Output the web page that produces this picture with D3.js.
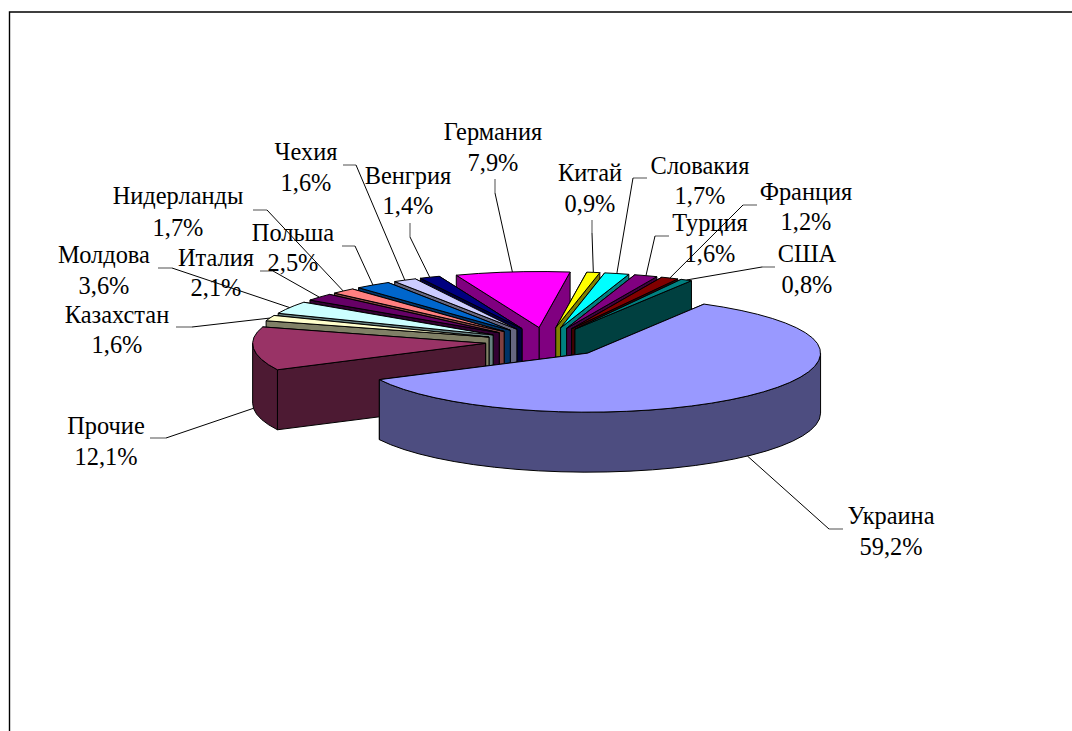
<!DOCTYPE html>
<html>
<head>
<meta charset="utf-8">
<title>Страны</title>
<script src="https://cdn.jsdelivr.net/npm/d3@7"></script>
<style>
    body { margin: 0; background: #fff; }
    text { font-family: "Liberation Serif", serif; font-size: 24.4px; fill: #000; }
</style>
</head>
<body>
<script>
    // data, going clockwise from Ukraine
    var countries = ["Украина", "Прочие", "Казахстан", "Молдова", "Италия", "Нидерланды", "Польша", "Чехия",
        "Венгрия", "Германия", "Китай", "Словакия", "Турция", "Франция", "США"];
    var shares = [59.2, 12.1, 1.6, 3.6, 2.1, 1.7, 2.5, 1.6, 1.4, 7.9, 0.9, 1.7, 1.6, 1.2, 0.8];
    var colors = ["#9999FF", "#993366", "#FFFFCC", "#CCFFFF", "#660066", "#FF8080", "#0066CC", "#CCCCFF",
        "#000080", "#FF00FF", "#FFFF00", "#00FFFF", "#800080", "#800000", "#008080"];

    // label layout: [center x, first baseline, second baseline], same order as countries
    var labelPos = [[891, 524, 555], [106, 434, 465], [117, 323, 353], [104, 263, 294], [216, 266, 296],
        [178, 204, 236], [293, 241, 271], [306, 160, 191], [408, 184, 214], [493, 140, 171],
        [590, 181, 212], [700, 174, 204], [710, 231, 262], [806, 200, 230], [807, 262, 293]];
    // leader line: start next to the label, then the elbow. the end is computed on the slice
    var leaderPos = [[[843, 529], [829, 529]], [[150, 438], [166, 438]], [[176, 327], [192, 327]],
        [[158, 268], [172, 268]], [[260, 271], [273, 271]], [[253, 210], [267, 210]],
        [[342, 246], [355, 246]], [[343, 165], [356, 165]], [[410, 223], [410, 237]],
        [[495, 179], [495, 193]], [[592, 220], [592, 233]], [[647, 178], [633, 178]],
        [[669, 236], [655, 236]], [[757, 205], [743, 205]], [[775, 267], [762, 267]]];

    var width = 1072, height = 731;
    // the back of the pie is a little flatter than the front (perspective)
    var cx = 546, cy = 342, rx = 233, ryBack = 56, ryFront = 59, depth = 60, explode = 0.26;

    var svg = d3.select("body").append("svg")
        .attr("width", width)
        .attr("height", height)
        .style("display", "block");

    // chart frame
    svg.append("path")
        .attr("d", "M9.5 731V12H1072")
        .attr("fill", "none")
        .attr("stroke", "#000")
        .attr("stroke-width", 1.4);

    var x = d3.scaleLinear().domain([-1, 1]).range([cx - rx, cx + rx]);
    var y = d3.scaleLinear().domain([-1, 0, 1]).range([cy - ryBack, cy, cy + ryFront]);
    var line = d3.line();

    var start = 30 * Math.PI / 180;
    var pie = d3.pie().sort(null).startAngle(start).endAngle(start + 2 * Math.PI);
    var slices = pie(shares).map(function(d, i) {
        d.name = countries[i];
        d.color = colors[i];
        d.mid = (d.startAngle + d.endAngle) / 2;
        d.ox = explode * Math.sin(d.mid);
        d.oy = -explode * Math.cos(d.mid);
        return d;
    });

    // point of a slice at angle a and radius r, dropped by dz pixels
    function pt(d, a, r, dz) {
        return [x(d.ox + r * Math.sin(a)), y(d.oy - r * Math.cos(a)) + dz];
    }

    function arcPoints(d, a0, a1, dz) {
        var n = Math.max(2, Math.ceil((a1 - a0) / 0.1));
        return d3.range(n + 1).map(function(k) {
            return pt(d, a0 + (a1 - a0) * k / n, 1, dz);
        });
    }

    function drawPoly(g, pts, fill) {
        g.append("path")
            .attr("d", line(pts) + "Z")
            .attr("fill", fill)
            .attr("stroke", "#000")
            .attr("stroke-width", 1)
            .attr("stroke-linejoin", "round");
    }

    // back slices first
    var order = slices.slice().sort(function(a, b) {
        return d3.descending(Math.cos(a.mid), Math.cos(b.mid));
    });

    order.forEach(function(d) {
        var g = svg.append("g").attr("class", "slice");
        var side = d3.color(d.color);
        side = d3.rgb(Math.round(side.r / 2), Math.round(side.g / 2), Math.round(side.b / 2)).formatHex();

        // radial walls, the one further back first
        [d.startAngle, d.endAngle].sort(function(a, b) {
            return d3.descending(Math.cos(a), Math.cos(b));
        }).forEach(function(a) {
            drawPoly(g, [pt(d, 0, 0, 0), pt(d, a, 1, 0), pt(d, a, 1, depth), pt(d, 0, 0, depth)], side);
        });

        // outer wall, only the part facing the viewer
        var lo = Math.max(d.startAngle, Math.PI / 2), hi = Math.min(d.endAngle, 3 * Math.PI / 2);
        if (hi > lo) {
            drawPoly(g, arcPoints(d, lo, hi, 0).concat(arcPoints(d, lo, hi, depth).reverse()), side);
        }

        // top
        drawPoly(g, [pt(d, 0, 0, 0)].concat(arcPoints(d, d.startAngle, d.endAngle, 0)), d.color);
    });

    // leader lines
    slices.forEach(function(d, i) {
        var front = Math.cos(d.mid) < 0;
        var end = pt(d, d.mid, 1, front ? depth : 0);
        var p = leaderPos[i];
        svg.append("path")
            .attr("d", line([p[0], p[1]]))
            .attr("fill", "none")
            .attr("stroke", "#777")
            .attr("stroke-width", 1.3);
        svg.append("path")
            .attr("d", line([p[1], end]))
            .attr("fill", "none")
            .attr("stroke", "#000")
            .attr("stroke-width", 1);
    });

    // labels
    var labels = svg.append("g").selectAll("g")
        .data(slices)
        .enter()
        .append("g");

    labels.append("text")
        .attr("text-anchor", "middle")
        .attr("x", function(d, i) { return labelPos[i][0]; })
        .attr("y", function(d, i) { return labelPos[i][1]; })
        .text(function(d) { return d.name; });

    labels.append("text")
        .attr("text-anchor", "middle")
        .attr("x", function(d, i) { return labelPos[i][0]; })
        .attr("y", function(d, i) { return labelPos[i][2]; })
        .text(function(d) { return d.value.toFixed(1).replace(".", ",") + "%"; });
</script>
</body>
</html>
